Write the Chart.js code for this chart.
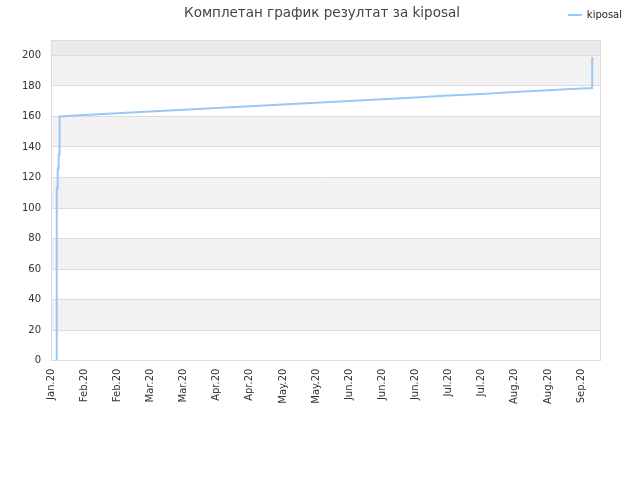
<!DOCTYPE html>
<html>
<head>
<meta charset="utf-8">
<script src="https://cdn.jsdelivr.net/npm/chart.js@4.4.1/dist/chart.umd.min.js"></script>
<style>
  html, body { margin: 0; padding: 0; background: #fff; }
  #wrap { width: 640px; height: 480px; }
</style>
</head>
<body>
<div id="wrap"><canvas id="chart"></canvas></div>
<script>
// days from the first label, one tick every 14 days
const xTickLabels = ['Jan.20', 'Feb.20', 'Feb.20', 'Mar.20', 'Mar.20', 'Apr.20', 'Apr.20', 'May.20', 'May.20',
    'Jun.20', 'Jun.20', 'Jun.20', 'Jul.20', 'Jul.20', 'Aug.20', 'Aug.20', 'Sep.20'];
const tickStep = 14;
const xMax = 232;
const yMax = 210;

// result line (day, value)
const days = [2.4, 2.4, 2.8, 2.8, 3.2, 3.2, 3.6, 3.6, 14, 28, 42, 56, 70, 84, 98, 112, 126, 140, 154, 168, 182, 196, 210, 224, 228.7, 228.7];
const values = [0, 113, 113, 126, 126, 135, 135, 160, 160.9, 162.1, 163.2, 164.4, 165.5, 166.7, 167.8, 169.0, 170.2, 171.3, 172.5, 173.7, 174.8, 176.0, 177.2, 178.3, 178.6, 199];

const seriesName = 'kiposal';
const titleText = 'Комплетан график резултат за kiposal';

const points = days.map((d, i) => ({ x: d, y: values[i] }));

// alternating bands + plot frame
const bandsPlugin = {
    id: 'bands',
    beforeDraw(chart) {
        const { ctx, chartArea: a, scales: { y } } = chart;
        ctx.save();
        for (let v = 0; v < 200; v += 20) {
            if ((v / 20) % 2 === 1) {
                const top = y.getPixelForValue(v + 20);
                const bot = y.getPixelForValue(v);
                ctx.fillStyle = '#f2f2f2';
                ctx.fillRect(a.left, top, a.right - a.left, bot - top);
            }
        }
        const t = y.getPixelForValue(yMax);
        const b = y.getPixelForValue(200);
        ctx.fillStyle = '#ebebeb';
        ctx.fillRect(a.left, t, a.right - a.left, b - t);
        ctx.restore();
    },
    afterDraw(chart) {
        const { ctx, chartArea: a } = chart;
        ctx.save();
        ctx.strokeStyle = '#dcdcdc';
        ctx.lineWidth = 1;
        ctx.strokeRect(Math.round(a.left) + 0.5, Math.round(a.top) + 0.5, Math.round(a.right - a.left), Math.round(a.bottom - a.top));
        ctx.restore();
    }
};

new Chart(document.getElementById('chart'), {
    type: 'line',
    data: {
        datasets: [{
            label: seriesName,
            data: points,
            borderColor: '#99c8f4',
            backgroundColor: '#99c8f4',
            borderWidth: 2,
            pointRadius: 0,
            tension: 0,
            fill: false
        }]
    },
    options: {
        responsive: true,
        maintainAspectRatio: false,
        animation: false,
        layout: { padding: { left: 12, right: 8, top: 0, bottom: 68 } },
        plugins: {
            // legend sits outermost, title pulled up next to it
            legend: {
                display: true,
                position: 'top',
                align: 'end',
                weight: 3000,
                labels: {
                    color: '#222',
                    font: { family: 'DejaVu Sans', size: 10 },
                    usePointStyle: true,
                    pointStyle: 'line',
                    pointStyleWidth: 14,
                    boxHeight: 8,
                    padding: 10
                }
            },
            title: {
                display: true,
                text: titleText,
                color: '#444',
                font: { family: 'DejaVu Sans', size: 13.5, weight: 'normal' },
                padding: { top: -24.5, bottom: 18.5 }
            },
            tooltip: { enabled: false }
        },
        scales: {
            x: {
                type: 'linear',
                min: 0,
                max: xMax,
                afterBuildTicks: s => { s.ticks = s.ticks.filter(t => t.value % tickStep === 0); },
                afterFit: s => { s.paddingRight = 40; },
                ticks: {
                    stepSize: tickStep,
                    autoSkip: false,
                    minRotation: 90,
                    maxRotation: 90,
                    padding: 8,
                    color: '#333',
                    font: { family: 'DejaVu Sans', size: 10 },
                    callback: v => xTickLabels[Math.round(v / tickStep)]
                },
                grid: { display: false, drawTicks: false },
                border: { display: false }
            },
            y: {
                min: 0,
                max: yMax,
                afterBuildTicks: s => { s.ticks = s.ticks.filter(t => t.value % 20 === 0); },
                ticks: {
                    stepSize: 20,
                    padding: 10,
                    color: '#333',
                    font: { family: 'DejaVu Sans', size: 10 }
                },
                grid: { color: '#dcdcdc', drawTicks: false },
                border: { display: false }
            }
        }
    },
    plugins: [bandsPlugin]
});
</script>
</body>
</html>
